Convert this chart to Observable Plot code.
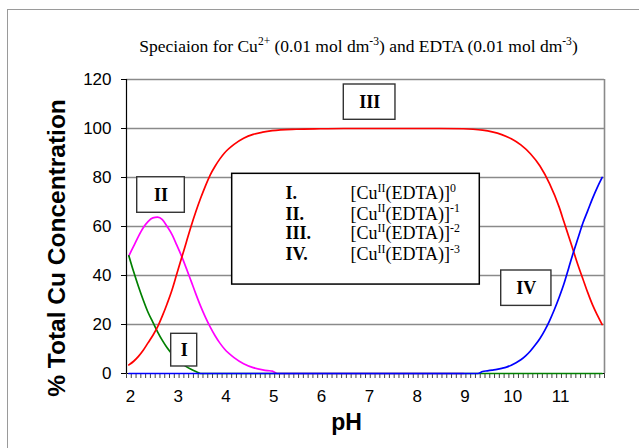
<!DOCTYPE html>
<html><head><meta charset="utf-8">
<script src="https://cdn.jsdelivr.net/npm/d3@7"></script>
<script src="https://cdn.jsdelivr.net/npm/@observablehq/plot@0.6"></script>
<style>
body{margin:0;background:#fff}
#wrap{position:relative;width:639px;height:448px;overflow:hidden}
#border{position:absolute;left:7px;top:9px;width:700px;height:500px;border:1.5px solid #9a9a9a;box-sizing:border-box}
#chart{position:absolute;left:0;top:0}
</style>
</head><body><div id="wrap"><div id="border"></div><div id="chart"></div></div>
<script>
// ---- Data ----
const pH_I  = [2.0,2.1,2.2,2.3,2.4,2.5,2.6,2.7,2.8,2.9,3.0,3.1,3.2,3.3,3.4,3.5,11.9];
const pct_I = [48,41.5,35.5,30,25,21,17,13.5,10.5,8,6,4.2,2.8,1.7,0.8,0,0];

const pH_II  = [2.0,2.1,2.2,2.3,2.4,2.5,2.6,2.7,2.8,2.9,3.0,3.1,3.2,3.3,3.4,3.5,3.6,3.7,3.8,3.9,4.0,4.2,4.4,4.6,4.8,4.9,5.0,5.1,9.0];
const pct_II = [48,52,56,59.5,62,63.5,63.8,62.8,60,56.8,52.5,48,43,37.8,32.5,27.5,23,19,15.5,12.5,10,6.5,4,2.4,1.5,1.2,1,0,0];

const pH_III  = [2.0,2.1,2.2,2.3,2.4,2.5,2.6,2.7,2.8,2.9,3.0,3.1,3.2,3.3,3.4,3.5,3.6,3.7,3.8,3.9,4.0,4.2,4.4,4.6,4.8,5.0,5.5,6.0,6.5,8.5,9.0,9.2,9.4,9.6,9.8,10.0,10.2,10.4,10.6,10.8,11.0,11.1,11.2,11.3,11.4,11.5,11.6,11.7,11.8,11.9];
const pct_III = [3.5,5,7,9.5,12.5,15.5,19,23.5,28.5,34,40.5,47,53.5,60,66,71.5,76.5,81,84.5,87.5,90,93.5,96,97.6,98.5,99.1,99.7,99.9,100,100,99.9,99.7,99.3,98.6,97.5,95.8,93.3,89.7,84.7,77.5,68,62,56,50,44,38.5,33,28,23.8,20];

const pH_IV  = [2.0,9.3,9.4,9.5,9.6,9.7,9.8,9.9,10.0,10.1,10.2,10.3,10.4,10.5,10.6,10.7,10.8,10.9,11.0,11.1,11.2,11.3,11.4,11.5,11.6,11.7,11.8,11.9];
const pct_IV = [0,0,0.8,1.1,1.4,1.7,2.1,2.6,3.4,4.4,5.6,7.2,9.2,11.6,14.3,17.6,21.5,26,31,36.5,43,49.5,55.5,61.5,66.5,71.5,76,80];

const xTickLabels = [2,3,4,5,6,7,8,9,10,11];
const yTickLabels = [0,20,40,60,80,100,120];

// annotation boxes (in pH / % units)
const boxLabels = ["I","II","III","IV"];
const boxX1 = [2.885, 2.174, 6.496, 9.789];
const boxX2 = [3.429, 3.170, 7.577, 10.840];
const boxY1 = [2.86, 65.6, 103.55, 27.6];
const boxY2 = [16.2, 80.1, 117.96, 42.04];

// legend
const legendRoman = ["I.","II.","III.","IV."];
const legendFormula = ["[Cu{II}(EDTA)]{0}","[Cu{II}(EDTA)]{-1}","[Cu{II}(EDTA)]{-2}","[Cu{II}(EDTA)]{-3}"];
const legendRowPct = [73.5, 65.2, 57.1, 48.6];
const legendBox = {x1: 4.161, x2: 9.341, y1: 36.3, y2: 81.5};

const titleText = "Speciaion for Cu{2+} (0.01 mol dm{-3}) and EDTA (0.01 mol dm{-3})";

// category tick marks (between 0.1-pH categories)
const minorTicks = d3.range(0, 101).map(k => 1.95 + k * 0.1);

const toXY = (xs, ys) => xs.map((x, i) => ({x, y: ys[i]}));
const serif = "'Liberation Serif', 'Times New Roman', serif";
const sans = "'Liberation Sans', Arial, sans-serif";

const chart = Plot.plot({
  width: 639, height: 448,
  marginLeft: 126, marginRight: 35, marginTop: 79, marginBottom: 75,
  x: {domain: [1.95, 11.95]},
  y: {domain: [0, 120]},
  style: {fontFamily: sans, fontSize: "17px", background: "transparent", overflow: "visible", color: "black"},
  marks: [
    Plot.gridY(yTickLabels.filter(d => d > 0), {stroke: "#8a8a8a", strokeOpacity: 1, strokeWidth: 1.3}),
    Plot.ruleX([11.95], {stroke: "#8a8a8a", strokeWidth: 1.6}),
    Plot.ruleX([1.95], {stroke: "black", strokeWidth: 1.2}),
    Plot.ruleY([0], {stroke: "black", strokeWidth: 1.2}),
    Plot.axisY(yTickLabels, {tickSize: 5, tickPadding: 10, label: null, fontSize: 17, stroke: "black"}),
    Plot.axisX(minorTicks, {tickSize: 5, tickFormat: () => "", label: null, stroke: "#444"}),
    Plot.axisX(xTickLabels, {tickSize: 0, tickPadding: 16, label: null, fontSize: 17, dx: 1.5, tickFormat: d3.format("d")}),
    Plot.line(toXY(pH_II, pct_II), {x: "x", y: "y", stroke: "#ff00ff", strokeWidth: 1.7, curve: "monotone-x"}),
    Plot.line(toXY(pH_I, pct_I), {x: "x", y: "y", stroke: "#008000", strokeWidth: 1.7, curve: "monotone-x"}),
    Plot.line(toXY(pH_III, pct_III), {x: "x", y: "y", stroke: "#ff0000", strokeWidth: 1.7, curve: "monotone-x"}),
    Plot.line(toXY(pH_IV, pct_IV), {x: "x", y: "y", stroke: "#0000ff", strokeWidth: 1.7, curve: "monotone-x"}),
    // annotation boxes
    Plot.rect(boxLabels, {x1: (d, i) => boxX1[i], x2: (d, i) => boxX2[i], y1: (d, i) => boxY1[i], y2: (d, i) => boxY2[i], fill: "white", stroke: "#333", strokeWidth: 1.4}),
    Plot.text(boxLabels, {x: (d, i) => (boxX1[i] + boxX2[i]) / 2, y: (d, i) => (boxY1[i] + boxY2[i]) / 2, text: d => d, fontFamily: serif, fontWeight: "bold", fontSize: 18, lineAnchor: "middle", fill: "black"}),
    // legend box
    Plot.rect([legendBox], {x1: "x1", x2: "x2", y1: "y1", y2: "y2", fill: "white", stroke: "black", strokeWidth: 1.5}),
    Plot.text(legendRoman, {x: () => 5.276, y: (d, i) => legendRowPct[i], text: d => d, textAnchor: "start", lineAnchor: "middle", fontFamily: serif, fontWeight: "bold", fontSize: 18, fill: "black"}),
    Plot.text(legendFormula, {x: () => 6.636, y: (d, i) => legendRowPct[i], text: d => d, textAnchor: "start", lineAnchor: "middle", fontFamily: serif, fontSize: 18, fill: "black"}),
    // titles
    Plot.text([titleText], {frameAnchor: "top", dx: -7, dy: -28, lineAnchor: "bottom", fontFamily: serif, fontSize: 17.5, fill: "black"}),
    Plot.text(["pH"], {frameAnchor: "bottom", dx: -19, dy: 56, lineAnchor: "bottom", fontFamily: sans, fontWeight: "bold", fontSize: 23, fill: "black"}),
    Plot.text(["% Total Cu Concentration"], {frameAnchor: "left", rotate: -90, textAnchor: "middle", dx: -69, dy: 21.5, lineAnchor: "middle", fontFamily: sans, fontWeight: "bold", fontSize: 24.5, fill: "black"})
  ]
});

// superscript handling: {...} segments become raised, smaller tspans
chart.querySelectorAll("text").forEach(t => {
  const s = t.textContent;
  if (!s.includes("{")) return;
  const holder = t.closest("[font-size]");
  const fs = holder ? parseFloat(holder.getAttribute("font-size")) : 16;
  const parts = s.split(/(\{[^}]*\})/).filter(p => p.length);
  t.textContent = "";
  let raised = false;
  parts.forEach(p => {
    const ts = document.createElementNS("http://www.w3.org/2000/svg", "tspan");
    if (p.startsWith("{")) {
      ts.textContent = p.slice(1, -1);
      ts.setAttribute("font-size", (fs * 0.66).toFixed(2));
      if (!raised) { ts.setAttribute("dy", (-fs * 0.4).toFixed(2)); raised = true; }
    } else {
      ts.textContent = p;
      if (raised) { ts.setAttribute("dy", (fs * 0.4).toFixed(2)); raised = false; }
    }
    t.appendChild(ts);
  });
});

document.getElementById("chart").appendChild(chart);
</script>
</body></html>
